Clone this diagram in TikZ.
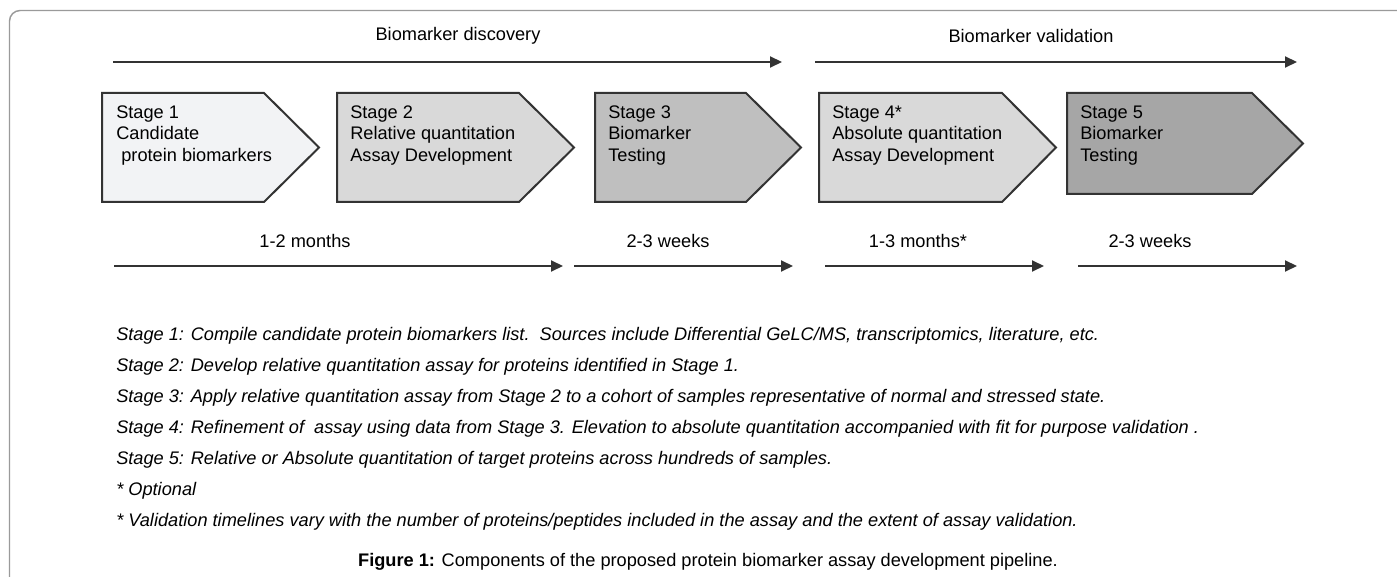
\documentclass[tikz,border=0pt]{standalone}
\usepackage{fontspec}
\setmainfont{Liberation Sans}
\usetikzlibrary{arrows.meta}
\definecolor{inkc}{HTML}{333333}
\definecolor{framec}{HTML}{9A9A9A}
\definecolor{fillA}{HTML}{F2F3F5}
\definecolor{fillB}{HTML}{D9D9D9}
\definecolor{fillC}{HTML}{BFBFBF}
\definecolor{fillD}{HTML}{A6A6A6}
\newcommand\stagechev[6]{%
  \draw[chevbox, fill=#6] (#1,#4) -- (#2,#4) -- (#3,{(#4+#5)/2}) -- (#2,#5) -- (#1,#5) -- cycle;}
\begin{document}
\begin{tikzpicture}[x=0.75pt,y=-0.75pt,
  txt/.style={inner sep=0pt, font=\fontsize{13.65}{16.1}\selectfont, text=black},
  boxtxt/.style={txt, anchor=north west, align=left},
  note/.style={txt, anchor=west, font=\fontsize{13.65}{16.1}\selectfont\itshape},
  chevbox/.style={draw=inkc, line width=1.5pt, line join=miter},
  timeline/.style={draw=inkc, line width=1.5pt, -{Triangle[length=9pt,width=8.25pt]}}]
\useasboundingbox (0,0) rectangle (1397,577);
% frame
\draw[framec, line width=1.1pt, rounded corners=8pt] (1400,10.5) -- (9.5,10.5) -- (9.5,580);

% phase titles and arrows
\node[txt] (disc) at (458,36) {Biomarker discovery};
\node[txt] (valid) at (1031,36) {Biomarker validation};
\coordinate (d1) at (113,62); \coordinate (d2) at (782,62);
\coordinate (v1) at (815,62); \coordinate (v2) at (1297,62);
\draw[timeline] (d1) -- (d2);
\draw[timeline] (v1) -- (v2);

% stage chevrons
\stagechev{102}{264}{319}{93}{202}{fillA}
\stagechev{337}{519}{574}{93}{202}{fillB}
\stagechev{595}{746}{801}{93}{202}{fillC}
\stagechev{819}{1002}{1056}{93}{202}{fillB}
\stagechev{1067}{1252}{1303}{93}{194}{fillD}
\node[boxtxt] (s1) at (116,105.5) {Stage 1\\Candidate\\\hspace*{3.8pt}protein biomarkers};
\node[boxtxt] (s2) at (350,105.5) {Stage 2\\Relative quantitation\\Assay Development};
\node[boxtxt] (s3) at (608,105.5) {Stage 3\\Biomarker\\Testing};
\node[boxtxt] (s4) at (832,105.5) {Stage 4*\\Absolute quantitation\\Assay Development};
\node[boxtxt] (s5) at (1080,105.5) {Stage 5\\Biomarker\\Testing};

% durations
\node[txt] (t1) at (305,241) {1-2 months};
\node[txt] (t2) at (668,241) {2-3 weeks};
\node[txt] (t3) at (918,241) {1-3 months*};
\node[txt] (t4) at (1150,241) {2-3 weeks};
\coordinate (a1) at (114,266); \coordinate (a2) at (563,266);
\coordinate (b1) at (574,266); \coordinate (b2) at (793,266);
\coordinate (c1) at (825,266); \coordinate (c2) at (1044,266);
\coordinate (e1) at (1078,266); \coordinate (e2) at (1297,266);
\draw[timeline] (a1) -- (a2);
\draw[timeline] (b1) -- (b2);
\draw[timeline] (c1) -- (c2);
\draw[timeline] (e1) -- (e2);

% notes
\node[note] (n1) at (116,336) {Stage 1: Compile candidate protein biomarkers list.\ \ Sources include Differential GeLC/MS, transcriptomics, literature, etc.};
\node[note] (n2) at (116,367) {Stage 2: Develop relative quantitation assay for proteins identified in Stage 1.};
\node[note] (n3) at (116,398) {Stage 3: Apply relative quantitation assay from Stage 2 to a cohort of samples representative of normal and stressed state.};
\node[note] (n4) at (116,429) {Stage 4: Refinement of\ \ assay using data from Stage 3. Elevation to absolute quantitation accompanied with fit for purpose validation .};
\node[note] (n5) at (116,460) {Stage 5: Relative or Absolute quantitation of target proteins across hundreds of samples.};
\node[note] (n6) at (116,491) {* Optional};
\node[note] (n7) at (116,522) {* Validation timelines vary with the number of proteins/peptides included in the assay and the extent of assay validation.};

% caption
\node[txt] (cap) at (708,562) {\textbf{Figure 1:} Components of the proposed protein biomarker assay development pipeline.};
\end{tikzpicture}
\end{document}
